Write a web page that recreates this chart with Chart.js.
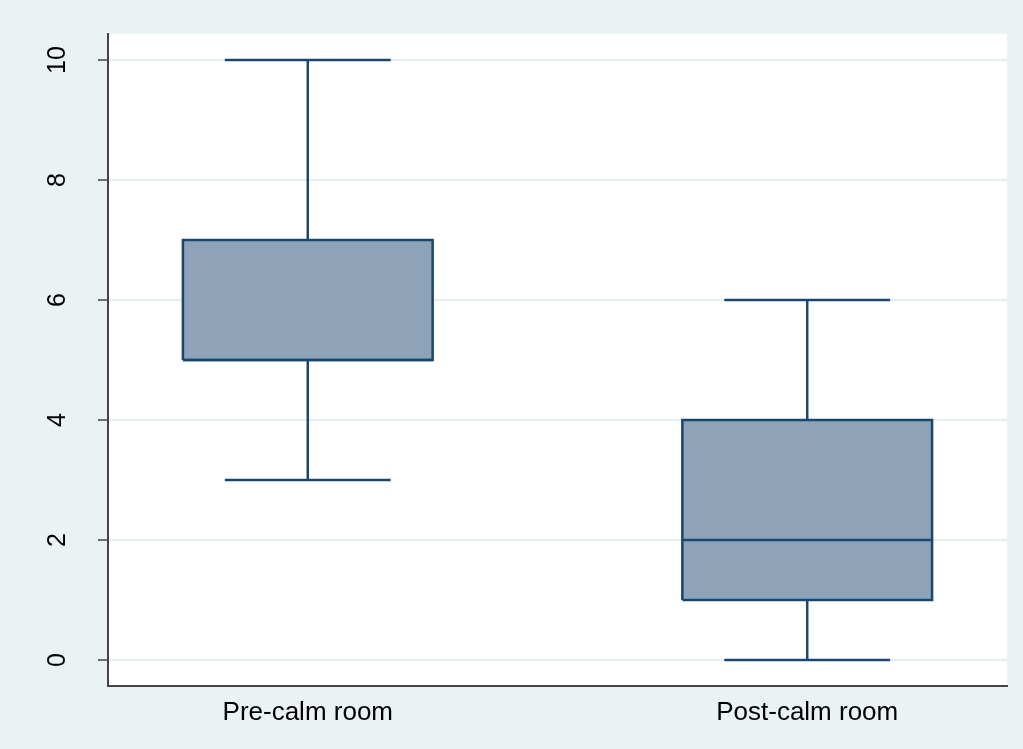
<!DOCTYPE html>
<html>
<head>
<meta charset="utf-8">
<script src="https://cdn.jsdelivr.net/npm/chart.js@4.4.0/dist/chart.umd.min.js"></script>
<style>
  html, body { margin: 0; padding: 0; background: #eaf2f3; }
  #wrap { width: 1023px; height: 749px; }
</style>
</head>
<body>
<div id="wrap"><canvas id="chart" width="1023" height="749"></canvas></div>
<script>
// data
var categories = ['Pre-calm room', 'Post-calm room'];
var positions = [1, 2];
var mins = [3, 0];
var q1s = [5, 1];
var medians = [5, 2];
var q3s = [7, 4];
var maxs = [10, 6];
var yTicks = [0, 2, 4, 6, 8, 10];

var lineColor = '#1a476f';
var boxFill = '#8ea3b8';
var boxHalf = 0.25;
var capHalf = 0.166;

// helper for a plain segment dataset
function segment(points) {
    return {
        type: 'line',
        data: points,
        borderColor: lineColor,
        borderWidth: 2.5,
        pointRadius: 0,
        fill: false,
        tension: 0,
        borderCapStyle: 'butt',
        order: 1
    };
}

var datasets = [];
for (var i = 0; i < categories.length; i++) {
    var c = positions[i];
    // box (drawn underneath median line)
    datasets.push({
        type: 'line',
        data: [
            { x: c - boxHalf, y: q1s[i] },
            { x: c + boxHalf, y: q1s[i] },
            { x: c + boxHalf, y: q3s[i] },
            { x: c - boxHalf, y: q3s[i] },
            { x: c - boxHalf, y: q1s[i] }
        ],
        borderColor: lineColor,
        backgroundColor: boxFill,
        borderWidth: 2.5,
        borderJoinStyle: 'miter',
        pointRadius: 0,
        fill: 'shape',
        tension: 0,
        order: 2
    });
    // median
    datasets.push(segment([{ x: c - boxHalf, y: medians[i] }, { x: c + boxHalf, y: medians[i] }]));
    // whiskers
    datasets.push(segment([{ x: c, y: q3s[i] }, { x: c, y: maxs[i] }]));
    datasets.push(segment([{ x: c, y: q1s[i] }, { x: c, y: mins[i] }]));
    // caps
    datasets.push(segment([{ x: c - capHalf, y: maxs[i] }, { x: c + capHalf, y: maxs[i] }]));
    datasets.push(segment([{ x: c - capHalf, y: mins[i] }, { x: c + capHalf, y: mins[i] }]));
}

// background plugin
var bgPlugin = {
    id: 'bg',
    beforeDraw: function (chart) {
        var ctx = chart.ctx;
        var a = chart.chartArea;
        ctx.save();
        ctx.fillStyle = '#eaf2f3';
        ctx.fillRect(0, 0, chart.width, chart.height);
        ctx.fillStyle = '#ffffff';
        ctx.fillRect(a.left, a.top, a.right - a.left, a.bottom - a.top);
        ctx.restore();
    }
};

Chart.defaults.font.family = '"Liberation Sans", Arial, sans-serif';
Chart.defaults.color = '#000000';

new Chart(document.getElementById('chart'), {
    type: 'line',
    data: { datasets: datasets },
    options: {
        responsive: false,
        animation: false,
        layout: { padding: { top: 34, right: 16, left: 0, bottom: 0 } },
        plugins: {
            legend: { display: false },
            tooltip: { enabled: false }
        },
        scales: {
            x: {
                type: 'linear',
                min: 0.6,
                max: 2.4,
                afterBuildTicks: function (scale) {
                    scale.ticks = positions.map(function (p) { return { value: p }; });
                },
                afterFit: function (scale) {
                    scale.height = 63;
                    scale.paddingLeft = 0;
                    scale.paddingRight = 0;
                },
                ticks: {
                    font: { size: 26 },
                    padding: 11,
                    maxRotation: 0,
                    callback: function (v) {
                        var k = positions.indexOf(v);
                        return k >= 0 ? categories[k] : '';
                    }
                },
                grid: { display: false, drawTicks: false },
                border: { display: true, color: '#444444', width: 2 }
            },
            y: {
                type: 'linear',
                min: -0.4333,
                max: 10.4333,
                afterBuildTicks: function (scale) {
                    scale.ticks = yTicks.map(function (t) { return { value: t }; });
                },
                afterFit: function (scale) {
                    scale.width = 108;
                    scale.paddingTop = 0;
                    scale.paddingBottom = 0;
                },
                ticks: {
                    font: { size: 25 },
                    minRotation: 90,
                    maxRotation: 90,
                    crossAlign: 'center',
                    padding: 26
                },
                grid: {
                    color: '#e6eeef',
                    lineWidth: 2,
                    tickLength: 10,
                    tickColor: '#444444',
                    tickWidth: 1.5
                },
                border: { display: true, color: '#444444', width: 2 }
            }
        }
    },
    plugins: [bgPlugin]
});
</script>
</body>
</html>
